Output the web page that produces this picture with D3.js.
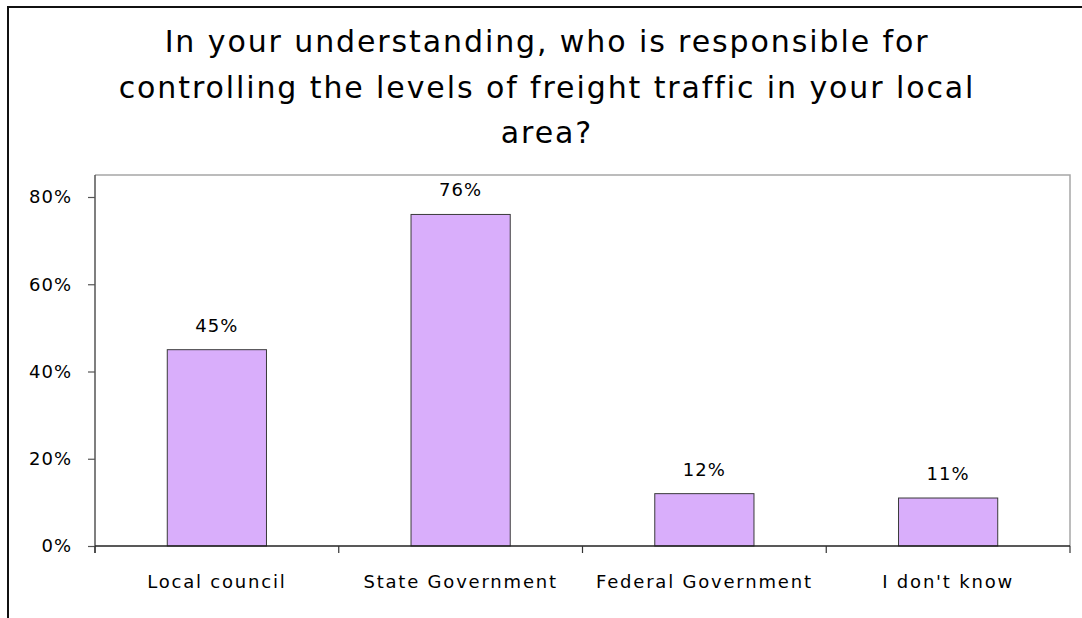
<!DOCTYPE html>
<html>
<head>
<meta charset="utf-8">
<script src="https://cdn.jsdelivr.net/npm/d3@7/dist/d3.min.js"></script>
<style>
  html, body { margin: 0; padding: 0; background: #fff; }
  svg { display: block; }
  text { font-family: "DejaVu Sans", Verdana, sans-serif; fill: #000; }
</style>
</head>
<body>
<svg id="chart" width="1082" height="618"></svg>
<script>
// Survey responses
const categories = ["Local council", "State Government", "Federal Government", "I don't know"];
const values = [0.45, 0.76, 0.12, 0.11];
const yTicks = [0, 0.2, 0.4, 0.6, 0.8];
const titleLines = [
  "In your understanding, who is responsible for",
  "controlling the levels of freight traffic in your local",
  "area?"
];

const svg = d3.select("#chart");
const W = 1082, H = 618;

// Outer chart frame (left and top edges visible)
svg.append("path")
  .attr("d", `M8,${H} L8,7 L${W},7`)
  .attr("fill", "none")
  .attr("stroke", "#111")
  .attr("stroke-width", 2);

// Plot area
const plot = { left: 95, right: 1070, top: 175, bottom: 546 };

const x = d3.scaleBand()
  .domain(categories)
  .range([plot.left, plot.right])
  .paddingInner(0.593)
  .paddingOuter(0.2965);

const y = d3.scaleLinear()
  .domain([0, 0.8])
  .range([plot.bottom, 197]);

// Plot area border (top + right in light gray)
svg.append("path")
  .attr("d", `M${plot.left},${plot.top} L${plot.right},${plot.top} L${plot.right},${plot.bottom}`)
  .attr("fill", "none")
  .attr("stroke", "#a6a6a6")
  .attr("stroke-width", 1.5);

// Title
svg.append("g").selectAll("text")
  .data(titleLines)
  .join("text")
  .attr("x", 547)
  .attr("y", (d, i) => 52 + i * 45.7)
  .attr("text-anchor", "middle")
  .attr("font-size", 30)
  .attr("letter-spacing", 1.9)
  .text(d => d);

// Bars
svg.append("g").selectAll("rect")
  .data(values)
  .join("rect")
  .attr("x", (d, i) => x(categories[i]))
  .attr("y", d => y(d))
  .attr("width", x.bandwidth())
  .attr("height", d => y(0) - y(d))
  .attr("fill", "#d9aefb")
  .attr("stroke", "#3a3a3a")
  .attr("stroke-width", 1);

// Value labels
const fmt = d3.format(".0%");
svg.append("g").selectAll("text")
  .data(values)
  .join("text")
  .attr("x", (d, i) => x(categories[i]) + x.bandwidth() / 2)
  .attr("y", d => y(d) - 18)
  .attr("text-anchor", "middle")
  .attr("font-size", 18)
  .attr("letter-spacing", 1)
  .text(d => fmt(d));

// Y axis
const yAxis = d3.axisLeft(y)
  .tickValues(yTicks)
  .tickFormat(fmt)
  .tickSize(7)
  .tickPadding(16);
const gy = svg.append("g")
  .attr("transform", `translate(${plot.left},0)`)
  .call(yAxis);
gy.select(".domain").attr("d", `M0,${plot.top}V${plot.bottom + 7}`).attr("stroke", "#555").attr("stroke-width", 1.5);
gy.selectAll(".tick line").attr("stroke", "#555").attr("stroke-width", 1.2);
gy.selectAll(".tick text")
  .attr("font-family", "DejaVu Sans, Verdana, sans-serif")
  .attr("font-size", 18)
  .attr("letter-spacing", 1)
  .attr("fill", "#000");

// X axis: line with ticks at category boundaries
const gx = svg.append("g");
gx.append("line")
  .attr("x1", plot.left).attr("x2", plot.right)
  .attr("y1", plot.bottom).attr("y2", plot.bottom)
  .attr("stroke", "#222").attr("stroke-width", 1.5);
const bounds = categories.map(c => x(c) - x.step() * x.paddingInner() / 2).concat([plot.right]);
gx.selectAll("line.bt")
  .data(bounds)
  .join("line")
  .attr("class", "bt")
  .attr("x1", d => d).attr("x2", d => d)
  .attr("y1", plot.bottom).attr("y2", plot.bottom + 7)
  .attr("stroke", "#333").attr("stroke-width", 1.2);

// Category labels
gx.selectAll("text")
  .data(categories)
  .join("text")
  .attr("x", d => x(d) + x.bandwidth() / 2)
  .attr("y", 588)
  .attr("text-anchor", "middle")
  .attr("font-size", 18)
  .attr("letter-spacing", 1.8)
  .text(d => d);
</script>
</body>
</html>
